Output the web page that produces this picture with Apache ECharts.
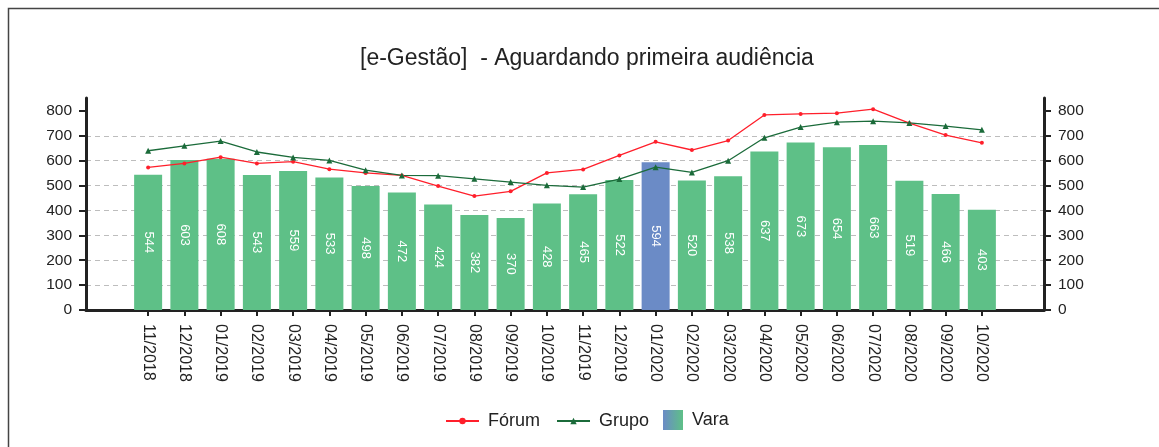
<!DOCTYPE html>
<html>
<head>
<meta charset="utf-8">
<script src="https://cdn.jsdelivr.net/npm/echarts@6/dist/echarts.min.js"></script>
<style>
  html, body { margin: 0; padding: 0; background: #fff; }
  #chart { width: 1159px; height: 447px; }
</style>
</head>
<body>
<div id="chart"></div>
<script>
// meses (eixo x)
var meses = ['11/2018','12/2018','01/2019','02/2019','03/2019','04/2019','05/2019','06/2019',
  '07/2019','08/2019','09/2019','10/2019','11/2019','12/2019','01/2020','02/2020',
  '03/2020','04/2020','05/2020','06/2020','07/2020','08/2020','09/2020','10/2020'];
// barras - Vara
var vara = [544,603,608,543,559,533,498,472,424,382,370,428,465,522,594,520,538,637,673,654,663,519,466,403];
// linhas
var forum = [573,589,614,589,596,566,551,541,498,458,477,551,565,621,676,643,681,784,788,791,807,751,703,672];
var grupo = [640,660,679,635,613,601,562,541,540,527,514,501,494,526,574,553,600,692,735,755,759,752,739,724];
var yTicks = [0,100,200,300,400,500,600,700,800];
var mesDestaque = '01/2020';

var corVerde = '#5ec087';
var corAzul = '#6b8bc6';
var fonte = '"Liberation Sans", Arial, sans-serif';

var myChart = echarts.init(document.getElementById('chart'));

// barra do mes em destaque fica azul
var dadosVara = vara.map(function (v, i) {
  if (meses[i] === mesDestaque) {
    return { value: v, itemStyle: { color: corAzul } };
  }
  return v;
});

var gradVara = new echarts.graphic.LinearGradient(0, 0, 1, 0, [
  { offset: 0, color: corAzul }, { offset: 1, color: corVerde }
]);

// eixo y (mesma escala nas duas grades)
function eixoY(grid, pos, visivel) {
  return {
    gridIndex: grid,
    type: 'value',
    position: pos,
    min: 0,
    max: 852,
    interval: 100,
    show: visivel,
    axisLine: { show: true, lineStyle: { color: '#222', width: 3 } },
    axisTick: { show: true, length: 7, lineStyle: { color: '#222', width: 2 }, customValues: yTicks },
    axisLabel: { fontSize: 15.5, color: '#222', margin: 14, customValues: yTicks },
    splitLine: { show: pos === 'left' && visivel, showMaxLine: false, lineStyle: { color: '#bdbdbd', type: [5, 4], width: 1 } }
  };
}

myChart.setOption({
  animation: false,
  textStyle: { fontFamily: fonte },
  title: {
    text: '[e-Gestão]  - Aguardando primeira audiência',
    left: 355,
    top: 42,
    textStyle: { fontSize: 23, fontWeight: 'normal', color: '#222', fontFamily: fonte }
  },
  graphic: [{
    type: 'rect',
    shape: { x: 8.5, y: 8.5, width: 1200, height: 500 },
    style: { fill: 'none', stroke: '#444', lineWidth: 1.5 },
    silent: true
  }],
  legend: [{
    left: 440,
    top: 407,
    itemWidth: 33,
    itemHeight: 8,
    itemGap: 16,
    textStyle: { fontSize: 18, color: '#222', padding: [0, 0, 0, 4] },
    data: ['Fórum', 'Grupo']
  }, {
    left: 658,
    top: 405,
    itemWidth: 20,
    itemHeight: 20,
    textStyle: { fontSize: 18, color: '#222', padding: [0, 0, 0, 4] },
    data: [{ name: 'Vara', icon: 'rect', itemStyle: { color: gradVara } }]
  }],
  grid: [
    { left: 86, right: 115, top: 98, bottom: 137 },
    { left: 130, right: 159, top: 98, bottom: 137 }
  ],
  xAxis: [{
    gridIndex: 0,
    type: 'value',
    min: 0,
    max: 1,
    axisLine: { show: true, lineStyle: { color: '#222', width: 3 } },
    axisTick: { show: false },
    axisLabel: { show: false },
    splitLine: { show: false }
  }, {
    gridIndex: 1,
    type: 'category',
    data: meses,
    axisLine: { show: false },
    axisTick: { show: true, alignWithLabel: true, length: 6, lineStyle: { color: '#222', width: 2 } },
    axisLabel: { rotate: -90, margin: 14, fontSize: 16, color: '#222', interval: 0 }
  }],
  yAxis: [eixoY(0, 'left', true), eixoY(0, 'right', true), eixoY(1, 'left', false)],
  series: [{
    name: 'Vara',
    type: 'bar',
    xAxisIndex: 1,
    yAxisIndex: 2,
    barWidth: 28,
    itemStyle: { color: corVerde },
    label: { show: true, position: 'inside', rotate: -90, color: '#fff', fontSize: 13 },
    data: dadosVara
  }, {
    name: 'Fórum',
    type: 'line',
    xAxisIndex: 1,
    yAxisIndex: 2,
    symbol: 'circle',
    symbolSize: 4,
    itemStyle: { color: '#ff1f2b' },
    lineStyle: { color: '#ff1f2b', width: 1.3 },
    data: forum
  }, {
    name: 'Grupo',
    type: 'line',
    xAxisIndex: 1,
    yAxisIndex: 2,
    symbol: 'triangle',
    symbolSize: 6,
    itemStyle: { color: '#1b6b3a' },
    lineStyle: { color: '#1b6b3a', width: 1.3 },
    data: grupo
  }]
});
</script>
</body>
</html>
